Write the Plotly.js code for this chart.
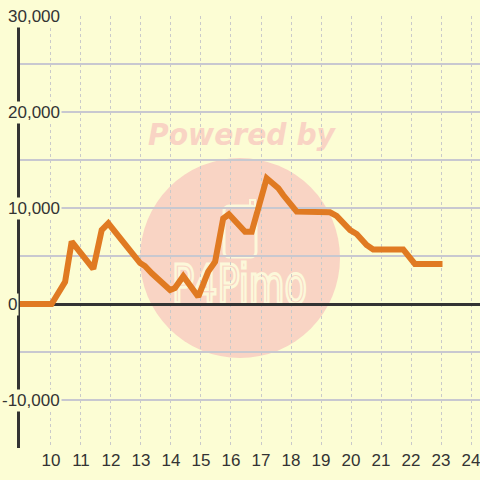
<!DOCTYPE html>
<html>
<head>
<meta charset="utf-8">
<script src="https://cdn.plot.ly/plotly-3.0.1.min.js"></script>
<style>html,body{margin:0;padding:0;background:#fcfdd4;}#chart{width:480px;height:480px;}</style>
</head>
<body>
<div id="chart"></div>
<script>
// Data
const hours = [8.87, 10.02, 10.47, 10.69, 11.41, 11.69, 11.91, 12.97, 13.13, 13.36, 13.97, 14.13, 14.41, 14.91, 15.24, 15.47, 15.74, 15.93, 16.47, 16.69, 17.19, 17.58, 17.74, 18.19, 19.3, 19.52, 19.97, 20.19, 20.52, 20.74, 21.74, 22.13, 23.05];
const values = [0, 0, 2300, 6500, 3650, 7700, 8400, 4270, 3960, 3200, 1460, 1660, 2900, 760, 3370, 4400, 8900, 9350, 7530, 7530, 13100, 12050, 11350, 9620, 9550, 9170, 7700, 7290, 6150, 5690, 5690, 4170, 4170];
const xTickVals = [10, 11, 12, 13, 14, 15, 16, 17, 18, 19, 20, 21, 22, 23, 24];
const yTickVals = [30000, 20000, 10000, 0, -10000];
const yTickText = ['30,000', '20,000', '10,000', '0', '-10,000'];

const BG = '#fcfdd4';
const PINK = '#f9d4c4';
const CREAM = '#fcf8da';

const wm = `<svg xmlns="http://www.w3.org/2000/svg" width="460" height="432" viewBox="0 0 460 432">
<circle cx="220" cy="242" r="100" fill="${PINK}"/>
<text x="128" y="129" font-family="DejaVu Sans" font-weight="bold" font-style="italic" font-size="30" fill="${PINK}" textLength="187" lengthAdjust="spacingAndGlyphs">Powered by</text>
<rect x="204" y="190" width="32" height="51" rx="5" fill="none" stroke="${CREAM}" stroke-width="3"/>
<rect x="230" y="184" width="5" height="7" fill="none" stroke="${CREAM}" stroke-width="2"/>
<text x="152" y="287" font-family="DejaVu Sans Condensed, DejaVu Sans" font-size="54" fill="none" stroke="${CREAM}" stroke-width="3" textLength="135" lengthAdjust="spacingAndGlyphs">P4Pimo</text>
</svg>`;

const trace = {
  x: hours,
  y: values,
  type: 'scatter',
  mode: 'lines',
  line: {color: '#e07a22', width: 6},
  cliponaxis: false,
  hoverinfo: 'skip'
};

const annotations = yTickVals.map((v, i) => ({
  xref: 'paper', yref: 'y', x: 0, y: v,
  xanchor: 'left', yanchor: 'middle', xshift: v < 0 ? -20 : -14,
  text: yTickText[i], showarrow: false,
  bgcolor: BG, borderpad: 1,
  font: {family: 'Liberation Sans, Arial, sans-serif', size: 17, color: '#333'}
}));

const layout = {
  width: 480, height: 480,
  margin: {l: 20, r: 0, t: 16, b: 32, pad: 0},
  paper_bgcolor: BG,
  plot_bgcolor: 'rgba(0,0,0,0)',
  showlegend: false,
  font: {family: 'Liberation Sans, Arial, sans-serif', size: 17, color: '#333'},
  xaxis: {
    range: [8.967, 24.3],
    tickvals: xTickVals,
    ticktext: xTickVals.map(String),
    ticklabeloverflow: 'allow',
    showgrid: true, gridcolor: '#cacaca', gridwidth: 1, griddash: '3px,3px',
    zeroline: false, showline: false, ticks: '',
    tickfont: {size: 17, color: '#333'}
  },
  yaxis: {
    range: [-15000, 30000],
    dtick: 5000, tick0: 0,
    showticklabels: false,
    showgrid: true, gridcolor: '#c8c8d0', gridwidth: 1.5,
    zeroline: true, zerolinecolor: '#333', zerolinewidth: 3,
    showline: true, linecolor: '#333', linewidth: 3, ticks: ''
  },
  images: [{
    source: 'data:image/svg+xml;charset=utf-8,' + encodeURIComponent(wm),
    xref: 'paper', yref: 'paper', x: 0, y: 1, sizex: 1, sizey: 1,
    xanchor: 'left', yanchor: 'top', sizing: 'stretch', layer: 'below'
  }],
  annotations: annotations
};

Plotly.newPlot('chart', [trace], layout, {displayModeBar: false, staticPlot: true});
</script>
</body>
</html>
